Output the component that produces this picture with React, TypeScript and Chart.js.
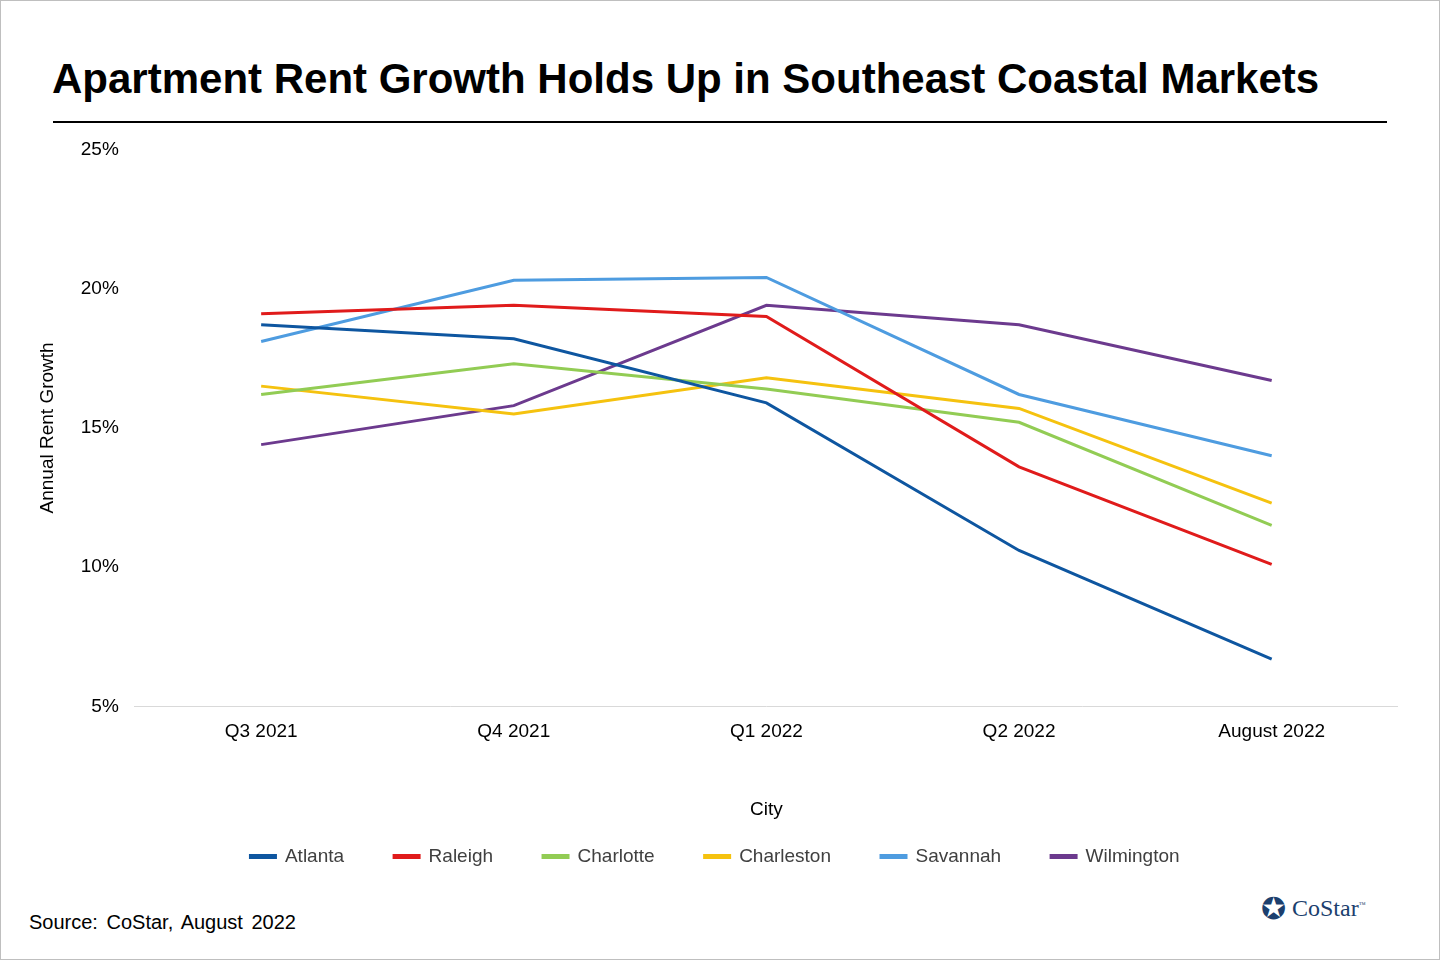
import React, { useEffect, useRef } from "react";
import { Chart, registerables } from "chart.js";
Chart.register(...registerables);

const categories = ["Q3 2021", "Q4 2021", "Q1 2022", "Q2 2022", "August 2022"];
const atlanta = [18.7, 18.2, 15.9, 10.6, 6.7];
const raleigh = [19.1, 19.4, 19.0, 13.6, 10.1];
const charlotte = [16.2, 17.3, 16.4, 15.2, 11.5];
const charleston = [16.5, 15.5, 16.8, 15.7, 12.3];
const savannah = [18.1, 20.3, 20.4, 16.2, 14.0];
const wilmington = [14.4, 15.8, 19.4, 18.7, 16.7];

const FONT = "'Liberation Sans', Arial, sans-serif";

export default function App() {
  const ref = useRef<HTMLCanvasElement>(null);
  useEffect(() => {
    document.body.style.margin = "0";
    const mk = (label: string, data: number[], color: string) => ({
      label, data, borderColor: color, backgroundColor: color, borderWidth: 3,
      pointRadius: 0, tension: 0,
    });
    const chart = new Chart(ref.current!, {
      type: "line",
      data: {
        labels: categories,
        datasets: [
          mk("Atlanta", atlanta, "#0e56a0"),
          mk("Raleigh", raleigh, "#e01b1b"),
          mk("Charlotte", charlotte, "#92cc54"),
          mk("Charleston", charleston, "#f5c20f"),
          mk("Savannah", savannah, "#4e9ce0"),
          mk("Wilmington", wilmington, "#6c3a8e"),
        ],
      },
      options: {
        animation: false,
        responsive: false,
        layout: { padding: { top: 18, right: 0, left: 17 } },
        plugins: {
          tooltip: { enabled: false },
          legend: {
            position: "bottom",
            labels: { boxWidth: 25, boxHeight: 2, padding: 50, color: "#404040", font: { family: FONT, size: 19 } },
          },
        },
        scales: {
          x: {
            offset: true,
            grid: { display: false },
            border: { color: "#d9d9d9" },
            ticks: { color: "#000", font: { family: FONT, size: 19 }, padding: 6 },
            title: { display: true, text: "City", color: "#000", font: { family: FONT, size: 19 }, padding: { top: 49, bottom: -24 } },
          },
          y: {
            min: 5, max: 25,
            ticks: { stepSize: 5, callback: (v: any) => v + "%", color: "#000", font: { family: FONT, size: 19 }, padding: 8 },
            grid: { display: false },
            border: { display: false },
            title: { display: true, text: "Annual Rent Growth", color: "#000", font: { family: FONT, size: 19 }, padding: { bottom: 14 } },
          },
        },
      },
    });
    return () => chart.destroy();
  }, []);
  return (
    <div style={{ position: "relative", width: 1438, height: 958, border: "1px solid #bfbfbf", background: "#fff", fontFamily: FONT, overflow: "hidden" }}>
      <div style={{ position: "absolute", left: 51, top: 54, fontSize: 42, fontWeight: "bold", color: "#000" }}>
        Apartment Rent Growth Holds Up in Southeast Coastal Markets
      </div>
      <div style={{ position: "absolute", left: 52, top: 120, width: 1334, height: 2, background: "#000" }} />
      <canvas ref={ref} width={1383} height={746} style={{ position: "absolute", left: 14, top: 129 }} />
      <div style={{ position: "absolute", left: 28, top: 910, fontSize: 20, color: "#000", wordSpacing: 3 }}>Source: CoStar, August 2022</div>
      <div style={{ position: "absolute", left: 1260, top: 890, display: "flex", alignItems: "center", gap: 6 }}>
        <span style={{ fontSize: 30, color: "#1c3f6e" }}>✪</span>
        <span style={{ fontFamily: "'Liberation Serif', serif", fontSize: 24, color: "#1c3f6e" }}>CoStar<sup style={{ fontSize: 7 }}>™</sup></span>
      </div>
    </div>
  );
}
